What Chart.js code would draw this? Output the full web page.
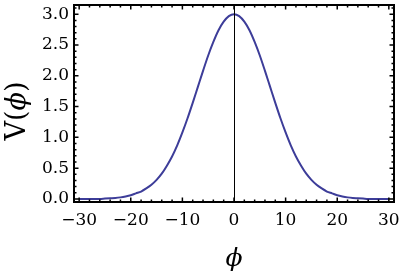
<!DOCTYPE html>
<html>
<head>
<meta charset="utf-8">
<script src="https://cdn.jsdelivr.net/npm/chart.js@4"></script>
<style>
  html, body { margin: 0; padding: 0; background: #fff; }
  canvas { display: block; }
</style>
</head>
<body>
<canvas id="potChart" width="400" height="278"></canvas>
<script>
// phi values and V(phi)
const phi = [-30, -29, -28, -27, -26, -25, -24, -23, -22, -21, -20, -19, -18, -17, -16, -15,
  -14, -13, -12, -11, -10, -9, -8, -7, -6, -5, -4, -3, -2, -1, 0,
  1, 2, 3, 4, 5, 6, 7, 8, 9, 10, 11, 12, 13, 14, 15,
  16, 17, 18, 19, 20, 21, 22, 23, 24, 25, 26, 27, 28, 29, 30];
const V = [0.0, 0.0, 0.0, 0.0, 0.0, 0.005, 0.01, 0.015, 0.025, 0.04, 0.06, 0.09, 0.12, 0.17, 0.23, 0.31,
  0.41, 0.54, 0.69, 0.87, 1.08, 1.31, 1.56, 1.82, 2.08, 2.33, 2.55, 2.74, 2.88, 2.97, 3.0,
  2.97, 2.88, 2.74, 2.55, 2.33, 2.08, 1.82, 1.56, 1.31, 1.08, 0.87, 0.69, 0.54, 0.41, 0.31,
  0.23, 0.17, 0.12, 0.09, 0.06, 0.04, 0.025, 0.015, 0.01, 0.005, 0.0, 0.0, 0.0, 0.0, 0.0];
const xTicks = [-30, -20, -10, 0, 10, 20, 30];
const yTicks = [0.0, 0.5, 1.0, 1.5, 2.0, 2.5, 3.0];

const serif = '"DejaVu Serif", "Liberation Serif", serif';

// Mathematica-style frame with inward ticks, origin line, axis labels
const framePlugin = {
  id: 'frame',
  afterDatasetsDraw(chart) {
    const ctx = chart.ctx;
    const a = chart.chartArea;
    const xs = chart.scales.x, ys = chart.scales.y;
    ctx.save();
    ctx.strokeStyle = '#000';

    // vertical axis line at phi = 0
    ctx.lineWidth = 1;
    const x0 = Math.round(xs.getPixelForValue(0)) + 0.5;
    ctx.beginPath();
    ctx.moveTo(x0, a.top);
    ctx.lineTo(x0, a.bottom);
    ctx.stroke();

    // ticks
    ctx.lineWidth = 1.5;
    ctx.beginPath();
    for (let v = -30; v <= 30; v += 2) {
      const px = xs.getPixelForValue(v);
      const len = v % 10 === 0 ? 4.5 : 2.5;
      ctx.moveTo(px, a.bottom); ctx.lineTo(px, a.bottom - len);
      ctx.moveTo(px, a.top); ctx.lineTo(px, a.top + len);
    }
    for (let i = 0; i <= 31; i++) {
      const v = i / 10;
      const py = ys.getPixelForValue(v);
      const len = i % 5 === 0 ? 4.5 : 2.5;
      ctx.moveTo(a.left, py); ctx.lineTo(a.left + len, py);
      ctx.moveTo(a.right, py); ctx.lineTo(a.right - len, py);
    }
    ctx.stroke();

    // frame
    ctx.lineWidth = 2;
    ctx.strokeRect(a.left, a.top, a.right - a.left, a.bottom - a.top);

    // x axis title
    ctx.fillStyle = '#000';
    ctx.textAlign = 'center';
    ctx.textBaseline = 'alphabetic';
    ctx.font = 'italic 25px ' + serif;
    ctx.fillText('\u03d5', (a.left + a.right) / 2, 266);

    // y axis title, rotated
    ctx.translate(25, 111);
    ctx.rotate(-Math.PI / 2);
    const parts = [['V(', '27px '], ['\u03d5', 'italic 27px '], [')', '27px ']];
    let total = 0;
    parts.forEach(p => { ctx.font = p[1] + serif; total += ctx.measureText(p[0]).width; });
    let cx = -total / 2;
    ctx.textAlign = 'left';
    parts.forEach(p => {
      ctx.font = p[1] + serif;
      ctx.fillText(p[0], cx, 0);
      cx += ctx.measureText(p[0]).width;
    });
    ctx.restore();
  }
};

new Chart(document.getElementById('potChart'), {
  type: 'line',
  data: {
    datasets: [{
      data: phi.map((p, i) => ({ x: p, y: V[i] })),
      borderColor: '#3d3d99',
      borderWidth: 2,
      pointRadius: 0,
      fill: false,
      cubicInterpolationMode: 'monotone'
    }]
  },
  options: {
    responsive: false,
    devicePixelRatio: 1,
    animation: false,
    layout: { padding: { left: 0, top: 5, right: 6, bottom: 0 } },
    plugins: { legend: { display: false }, tooltip: { enabled: false } },
    scales: {
      x: {
        type: 'linear',
        min: -31,
        max: 31,
        grid: { display: false, drawTicks: false },
        border: { display: false },
        afterFit(scale) {
          scale.height = 76;
          scale.paddingLeft = 0;
          scale.paddingRight = 0;
        },
        afterBuildTicks(scale) { scale.ticks = xTicks.map(v => ({ value: v })); },
        ticks: {
          autoSkip: false,
          maxRotation: 0,
          padding: 8,
          color: '#000',
          font: { family: serif, size: 17 },
          callback: v => String(v).replace('-', '\u2212')
        }
      },
      y: {
        type: 'linear',
        min: -0.05,
        max: 3.15,
        grid: { display: false, drawTicks: false },
        border: { display: false },
        afterFit(scale) {
          scale.width = 74;
          scale.paddingTop = 0;
          scale.paddingBottom = 0;
        },
        afterBuildTicks(scale) { scale.ticks = yTicks.map(v => ({ value: v })); },
        ticks: {
          padding: 5,
          color: '#000',
          font: { family: serif, size: 17 },
          callback: v => v.toFixed(1)
        }
      }
    }
  },
  plugins: [framePlugin]
});
</script>
</body>
</html>
